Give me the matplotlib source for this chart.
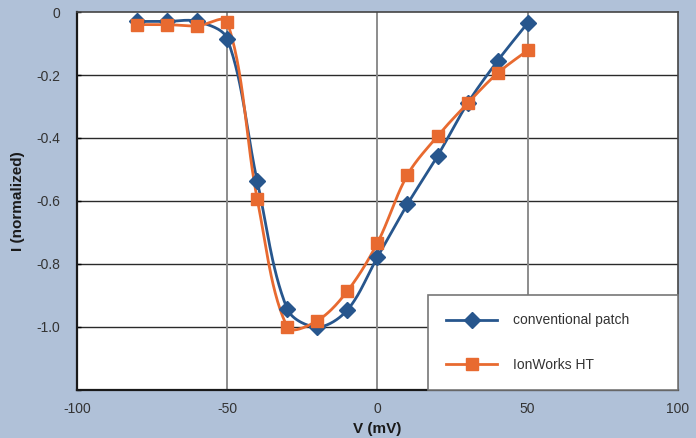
import numpy as np
import matplotlib.pyplot as plt

# voltage steps (mV)
volts = [-80, -70, -60, -50, -40, -30, -20, -10, 0, 10, 20, 30, 40, 50]

# normalized currents
conventional = [-0.03, -0.03, -0.03, -0.085, -0.537, -0.943, -1.0, -0.946,
                -0.778, -0.61, -0.457, -0.29, -0.155, -0.035]
ionworks = [-0.04, -0.04, -0.044, -0.032, -0.594, -1.0, -0.98, -0.886,
            -0.733, -0.517, -0.394, -0.29, -0.194, -0.122]

y_ticks = [0, -0.2, -0.4, -0.6, -0.8, -1.0, -1.2]
y_labels = ["0", "-0.2", "-0.4", "-0.6", "-0.8", "-1.0", ""]
x_ticks = [-100, -50, 0, 50, 100]

BLUE = "#27568d"
ORANGE = "#e86a30"
BG = "#b0c1d8"


# Excel-like smoothed line: cubic bezier, handles scaled by segment lengths
# (lengths measured roughly in pixel space so the shape isn't distorted)
def smooth(x, y, sx=3.0, sy=315.0, n=30):
    p = np.column_stack([np.asarray(x, float) * sx, np.asarray(y, float) * sy])
    m = len(p)
    out = []
    t = np.linspace(0, 1, n, endpoint=False)[:, None]
    for i in range(m - 1):
        p0 = p[max(i - 1, 0)]
        p1, p2 = p[i], p[i + 1]
        p3 = p[min(i + 2, m - 1)]
        d12 = np.linalg.norm(p2 - p1)
        d01 = np.linalg.norm(p1 - p0)
        d23 = np.linalg.norm(p3 - p2)
        s1 = 2 * d12 / (d01 + d12) if d01 > 0 else 1.0
        s2 = 2 * d12 / (d12 + d23) if d23 > 0 else 1.0
        c1 = p1 + (p2 - p0) / 6 * s1
        c2 = p2 - (p3 - p1) / 6 * s2
        seg = ((1 - t) ** 3 * p1 + 3 * (1 - t) ** 2 * t * c1
               + 3 * (1 - t) * t ** 2 * c2 + t ** 3 * p2)
        out.append(seg)
    out.append(p[-1][None, :])
    out = np.vstack(out)
    return out[:, 0] / sx, out[:, 1] / sy


plt.rcParams['font.family'] = ['Liberation Sans', 'DejaVu Sans']

fig = plt.figure(figsize=(6.96, 4.38), dpi=100, facecolor=BG)
ax = fig.add_axes([0.1106, 0.1096, 0.8634, 0.863])
ax.set_facecolor("white")

# grid
for yv in y_ticks[1:-1]:
    ax.axhline(yv, color="#2a2a2a", lw=1.0, zorder=1)
for xv in [-50, 0, 50]:
    ax.axvline(xv, color="#8c8c8c", lw=1.4, zorder=1)

for vals, col, mk, ms, lab in [
        (conventional, BLUE, "D", 8, "conventional patch"),
        (ionworks, ORANGE, "s", 8, "IonWorks HT")]:
    sx, sy = smooth(volts, vals)
    ax.plot(sx, sy, color=col, lw=2, zorder=3)
    ax.plot(volts, vals, linestyle="none", marker=mk, markersize=ms,
            color=col, zorder=4)
    ax.plot([], [], color=col, lw=2, marker=mk, markersize=ms, label=lab)

ax.set_xlim(-100, 100)
ax.set_ylim(-1.2, 0)
ax.set_xticks(x_ticks)
ax.set_xticklabels([str(v) for v in x_ticks])
ax.set_yticks(y_ticks)
ax.set_yticklabels(y_labels)
ax.tick_params(axis="y", direction="in", length=3, width=1, pad=12,
               labelsize=10, labelcolor="#333333")
ax.tick_params(axis="x", length=0, pad=9, labelsize=10, labelcolor="#333333")

for side in ["left", "bottom"]:
    ax.spines[side].set_linewidth(1.6)
    ax.spines[side].set_color("#1a1a1a")
for side in ["top", "right"]:
    ax.spines[side].set_linewidth(1.2)
    ax.spines[side].set_color("#444444")

ax.set_xlabel("V (mV)", fontsize=11, fontweight="bold", color="#1a1a1a",
              labelpad=4)
ax.set_ylabel("I (normalized)", fontsize=11, fontweight="bold",
              color="#1a1a1a", labelpad=8)

leg = ax.legend(loc="lower left", bbox_to_anchor=(0.584, 0.0, 0.416, 0.25),
                mode="expand", frameon=True,
                fancybox=False, framealpha=1, edgecolor="#777777",
                fontsize=10, borderpad=1.3, labelspacing=2.2,
                handlelength=3.7, handletextpad=1.15, borderaxespad=0)
leg.get_frame().set_linewidth(1.2)
for t in leg.get_texts():
    t.set_color("#333333")
leg.set_zorder(5)

fig.savefig("out.png", dpi=100, facecolor=BG)
